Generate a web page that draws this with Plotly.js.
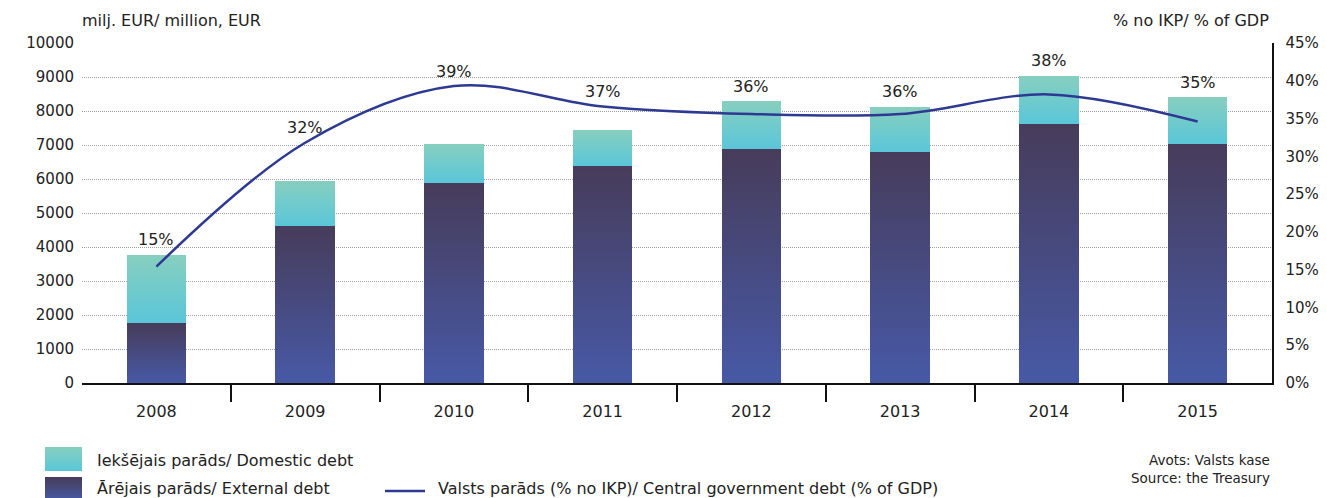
<!DOCTYPE html>
<html>
<head>
<meta charset="utf-8">
<script src="https://cdn.plot.ly/plotly-3.0.1.min.js"></script>
<style>
html,body{margin:0;padding:0;background:#fff;}
#chart{width:1327px;height:498px;}
</style>
</head>
<body>
<div id="chart"></div>
<script>
// ---- data ----
const years = ['2008','2009','2010','2011','2012','2013','2014','2015'];
const externalDebt = [1765, 4620, 5880, 6380, 6880, 6790, 7620, 7030];
const domesticDebt = [2000, 1320, 1150, 1060, 1410, 1330, 1410, 1380];
const debtPctGDP = [15.4, 31.8, 39.3, 36.6, 35.6, 35.6, 38.2, 34.6];

const leftTitle = 'milj. EUR/ million, EUR';
const rightTitle = '% no IKP/ % of GDP';
const nameDomestic = 'Iekšējais parāds/ Domestic debt';
const nameExternal = 'Ārējais parāds/ External debt';
const nameLine = 'Valsts parāds (% no IKP)/ Central government debt (% of GDP)';
const sourceText = 'Avots: Valsts kase<br>Source: the Treasury';

const FONT = 'DejaVu Sans, Verdana, sans-serif';
const TXT = '#222';
const lineColor = '#2E3A92';

const traces = [
  {type:'bar', x:years, y:externalDebt, name:nameExternal, marker:{color:'#47497F', line:{width:0}}, showlegend:false, hoverinfo:'y'},
  {type:'bar', x:years, y:domesticDebt, name:nameDomestic, marker:{color:'#70CBCC', line:{width:0}}, showlegend:false, hoverinfo:'y'},
  {type:'scatter', mode:'lines', x:years, y:debtPctGDP, yaxis:'y2', name:nameLine,
   line:{color:lineColor, width:2.5, shape:'spline', smoothing:1}, showlegend:false}
];

// percentage labels placed above the higher of bar top and line point (category axis -> index)
const annotations = years.map((yr, i) => {
  const total = externalDebt[i] + domesticDebt[i];
  const lineInLeft = debtPctGDP[i] * 10000 / 45;
  return {x:i, y:Math.max(total, lineInLeft), xref:'x', yref:'y', text:Math.round(debtPctGDP[i]) + '%',
    showarrow:false, yanchor:'middle', yshift:15, font:{family:FONT, size:16, color:TXT}};
});

const px = v => (v - 82) / 1190;          // pixel x -> paper
const py = v => (383 - v) / 340;          // pixel y -> paper

annotations.push(
  {xref:'paper', yref:'paper', x:px(80), y:py(20), xanchor:'left', yanchor:'middle', text:leftTitle, showarrow:false, font:{family:FONT, size:16, color:TXT}},
  {xref:'paper', yref:'paper', x:px(1271), y:py(20), xanchor:'right', yanchor:'middle', text:rightTitle, showarrow:false, font:{family:FONT, size:16, color:TXT}},
  {xref:'paper', yref:'paper', x:px(95), y:py(460), xanchor:'left', yanchor:'middle', text:nameDomestic, showarrow:false, font:{family:FONT, size:16, color:TXT}},
  {xref:'paper', yref:'paper', x:px(95), y:py(488), xanchor:'left', yanchor:'middle', text:nameExternal, showarrow:false, font:{family:FONT, size:16, color:TXT}},
  {xref:'paper', yref:'paper', x:px(436), y:py(488.5), xanchor:'left', yanchor:'middle', text:nameLine, showarrow:false, font:{family:FONT, size:16, color:TXT}},
  {xref:'paper', yref:'paper', x:px(1272), y:py(469), xanchor:'right', yanchor:'middle', align:'right', text:sourceText, showarrow:false, font:{family:FONT, size:13.5, color:TXT}}
);

const shapes = [
  {type:'rect', xref:'paper', yref:'paper', x0:px(45), x1:px(82), y0:py(447), y1:py(471), fillcolor:'#70CBCC', line:{width:0}},
  {type:'rect', xref:'paper', yref:'paper', x0:px(45), x1:px(82), y0:py(477), y1:py(501), fillcolor:'#47497F', line:{width:0}},
  {type:'line', xref:'paper', yref:'paper', x0:px(385), x1:px(425), y0:py(491), y1:py(491), line:{color:lineColor, width:2.5}}
];

const layout = {
  width:1327, height:498,
  margin:{l:82, r:55, t:43, b:115},
  paper_bgcolor:'#fff', plot_bgcolor:'#fff',
  barmode:'stack', bargap:0.6,
  font:{family:FONT, size:15, color:TXT},
  xaxis:{type:'category', showgrid:false, showline:true, linecolor:'#111', linewidth:2,
    ticks:'outside', tickson:'boundaries', ticklen:17, tickwidth:2, tickcolor:'#111', tickangle:0,
    tickfont:{family:FONT, size:16, color:TXT}, ticklabelstandoff:13, zeroline:false},
  yaxis:{range:[0,10000], dtick:1000, tickformat:'d', showline:false, showgrid:true, gridcolor:'#a0a0a0', griddash:'1px,1px', gridwidth:1,
    zeroline:false, ticks:'', tickfont:{family:FONT, size:15, color:TXT}, ticklabelstandoff:7},
  yaxis2:{overlaying:'y', side:'right', range:[0,45], dtick:5, ticksuffix:'%', showgrid:false, zeroline:false,
    showline:true, linecolor:'#111', linewidth:1.5, ticks:'', tickfont:{family:FONT, size:15, color:TXT}, ticklabelstandoff:9},
  annotations:annotations,
  shapes:shapes
};

function postProcess(gd){
  const svg = gd.querySelector('svg.main-svg');
  if(!svg) return;
  const NS = 'http://www.w3.org/2000/svg';
  let defs = svg.querySelector('defs');
  if(!defs){ defs = document.createElementNS(NS,'defs'); svg.insertBefore(defs, svg.firstChild); }
  const mk = (id, top, bottom) => {
    if(svg.querySelector('#'+id)) return;
    const g = document.createElementNS(NS,'linearGradient');
    g.setAttribute('id', id); g.setAttribute('x1','0'); g.setAttribute('y1','0'); g.setAttribute('x2','0'); g.setAttribute('y2','1');
    [[0,top],[1,bottom]].forEach(([o,c])=>{const s=document.createElementNS(NS,'stop'); s.setAttribute('offset',o); s.setAttribute('stop-color',c); g.appendChild(s);});
    defs.appendChild(g);
  };
  mk('gradExt', '#473C5A', '#4759A6');
  mk('gradDom', '#87CFBF', '#5AC6D9');
  const barTraces = gd.querySelectorAll('.barlayer .trace');
  if(barTraces[0]) barTraces[0].querySelectorAll('path').forEach(p=>p.style.fill='url(#gradExt)');
  if(barTraces[1]) barTraces[1].querySelectorAll('path').forEach(p=>p.style.fill='url(#gradDom)');
  gd.querySelectorAll('.shapelayer path').forEach(p=>{
    const idx = p.getAttribute('data-index');
    if(idx==='0') p.style.fill='url(#gradDom)';
    if(idx==='1') p.style.fill='url(#gradExt)';
  });
  // hide the boundary ticks at the two outer edges of the category axis
  const xa = gd._fullLayout.xaxis;
  const left = xa._offset, right = xa._offset + xa._length;
  gd.querySelectorAll('path.xtick').forEach(p=>{
    const r = p.getBoundingClientRect();
    const cx = r.left + r.width/2;
    if(Math.abs(cx-left) < 4 || Math.abs(cx-right) < 4) p.style.display='none';
  });
}

const gd = document.getElementById('chart');
Plotly.newPlot(gd, traces, layout, {displayModeBar:false, staticPlot:true}).then(()=>postProcess(gd));
</script>
</body>
</html>
